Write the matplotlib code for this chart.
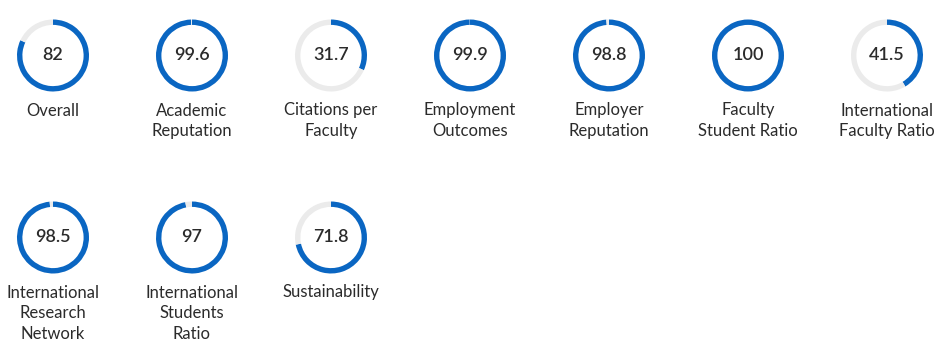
import matplotlib.pyplot as plt

plt.rcParams['font.family'] = ['Lato', 'DejaVu Sans']

labels = ['Overall', 'Academic\nReputation', 'Citations per\nFaculty', 'Employment\nOutcomes',
          'Employer\nReputation', 'Faculty\nStudent Ratio', 'International\nFaculty Ratio',
          'International\nResearch\nNetwork', 'International\nStudents\nRatio', 'Sustainability']
scores = [82, 99.6, 31.7, 99.9, 98.8, 100, 41.5, 98.5, 97, 71.8]
score_text = ['82', '99.6', '31.7', '99.9', '98.8', '100', '41.5', '98.5', '97', '71.8']

W, H = 952, 358
BLUE = '#0a66c2'
GRAY = '#ebebeb'
TEXT = '#2b2b2b'

fig = plt.figure(figsize=(W / 100, H / 100), dpi=100)

r = 36          # outer radius in px
ring = 5.4      # ring thickness in px
x0, dx = 53, 139
rows_y = [55.5, 237.5]

for i, (lab, val, txt) in enumerate(zip(labels, scores, score_text)):
    row, col = divmod(i, 7)
    cx = x0 + col * dx
    cy = rows_y[row]
    ax = fig.add_axes([(cx - r) / W, 1 - (cy + r) / H, 2 * r / W, 2 * r / H])
    ax.pie([val, 100 - val], colors=[BLUE, GRAY], startangle=90, counterclock=False,
           radius=1, wedgeprops=dict(width=ring / r, linewidth=0))
    ax.set_xlim(-1, 1)
    ax.set_ylim(-1, 1)
    ax.set_aspect('equal')
    ax.axis('off')
    ax.text(0, 0, txt, ha='center', va='center', fontsize=13, fontweight='semibold', color=TEXT)
    fig.text(cx / W, 1 - (cy + 47) / H, lab, ha='center', va='top', fontsize=12,
             color=TEXT, linespacing=1.38)

fig.savefig('out.png', dpi=100, facecolor='white')
